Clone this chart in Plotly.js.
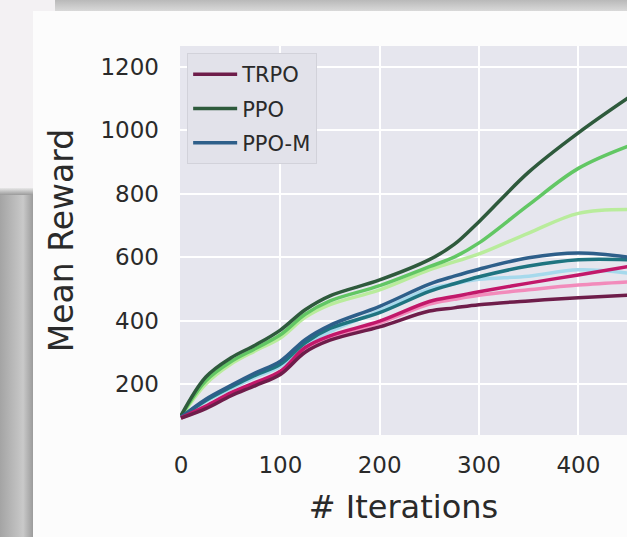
<!DOCTYPE html>
<html>
<head>
<meta charset="utf-8">
<script src="https://cdn.plot.ly/plotly-3.0.1.min.js"></script>
<style>
  html, body { margin:0; padding:0; }
  body { width:627px; height:537px; position:relative; overflow:hidden; background:#f3f1f3; }
  #topbar { position:absolute; left:55px; top:0; width:572px; height:11px; background:linear-gradient(#b9b9b9,#d9d9d9); }
  #leftstrip { position:absolute; left:0; top:195px; width:33px; height:342px; background:linear-gradient(to right,#a4a4a4,#c9c9c9 70%,#9c9c9c); }
  #lefttop { position:absolute; left:0; top:188px; width:33px; height:8px; background:linear-gradient(#e8e8e8,#8f8f8f); }
  #chart { position:absolute; left:33px; top:11px; width:594px; height:526px; }
</style>
</head>
<body>
<div id="topbar"></div>
<div id="lefttop"></div>
<div id="leftstrip"></div>
<div id="chart"></div>
<script>
const iterations = [0, 25, 50, 75, 100, 125, 150, 200, 250, 275, 300, 350, 400, 450];

const trpoDark    = [92, 122, 162, 195, 230, 300, 338, 380, 430, 440, 450, 462, 472, 480];
const trpoMagenta = [93, 130, 172, 205, 240, 315, 352, 398, 460, 476, 491, 518, 544, 570];
const trpoPink    = [92, 125, 168, 200, 235, 308, 345, 392, 452, 467, 480, 497, 512, 522];

const ppoDark     = [100, 222, 282, 323, 370, 434, 478, 528, 592, 640, 712, 868, 992, 1102];
const ppoMedium   = [98, 210, 270, 312, 355, 420, 462, 510, 570, 600, 645, 765, 880, 950];
const ppoLight    = [96, 200, 262, 305, 345, 410, 450, 497, 560, 585, 610, 676, 738, 750];

const ppomBlue    = [95, 152, 195, 235, 272, 340, 385, 445, 515, 540, 562, 598, 613, 600];
const ppomTeal    = [94, 148, 190, 228, 262, 330, 375, 425, 492, 516, 538, 572, 592, 592];
const ppomLight   = [94, 145, 185, 222, 255, 322, 365, 432, 500, 516, 530, 540, 560, 550];

const algoNames = ['TRPO', 'PPO', 'PPO-M'];
const yTicks = [200, 400, 600, 800, 1000, 1200];
const xTicks = [0, 100, 200, 300, 400];

function run(y, color, name, group, showLeg, rank) {
  return {
    x: iterations, y: y, type: 'scatter', mode: 'lines',
    line: { color: color, width: 3.5, shape: 'spline', smoothing: 1.0 },
    name: name, legendgroup: group, showlegend: showLeg, legendrank: rank
  };
}

const traces = [
  run(ppoLight,  '#b9ec9c', algoNames[1], 'ppo', false, 2),
  run(ppoMedium, '#62c764', algoNames[1], 'ppo', false, 2),
  run(ppoDark,   '#2e5a3c', algoNames[1], 'ppo', true, 2),
  run(ppomLight, '#a6d9ec', algoNames[2], 'ppom', false, 3),
  run(ppomTeal,  '#1f7480', algoNames[2], 'ppom', false, 3),
  run(ppomBlue,  '#2e5f8a', algoNames[2], 'ppom', true, 3),
  run(trpoPink,  '#f28bbb', algoNames[0], 'trpo', false, 1),
  run(trpoMagenta,'#c2186a', algoNames[0], 'trpo', false, 1),
  run(trpoDark,  '#6e1d4a', algoNames[0], 'trpo', true, 1)
];

const font = { family: 'DejaVu Sans, sans-serif', color: '#2a2a2a' };

const layout = {
  width: 594, height: 526,
  margin: { l: 147, r: 0, t: 35, b: 102 },
  paper_bgcolor: '#fcfcfc',
  plot_bgcolor: '#e6e6ee',
  showlegend: true,
  legend: {
    x: 0.016, y: 0.982, xanchor: 'left', yanchor: 'top',
    bgcolor: '#e2e2ea', bordercolor: '#d2d2da', borderwidth: 1,
    font: { family: font.family, color: font.color, size: 21 },
    traceorder: 'grouped', itemwidth: 44, tracegroupgap: 4
  },
  xaxis: {
    range: [-1, 449], tickvals: xTicks, ticktext: xTicks.map(String),
    showgrid: true, gridcolor: '#ffffff', gridwidth: 2, zeroline: false,
    showline: false, ticks: '', ticklabelstandoff: 14,
    tickfont: { family: font.family, color: font.color, size: 23 },
    title: { text: '# Iterations', standoff: 18, font: { family: font.family, color: font.color, size: 32 } }
  },
  yaxis: {
    range: [39, 1266], tickvals: yTicks, ticktext: yTicks.map(String),
    showgrid: true, gridcolor: '#ffffff', gridwidth: 2, zeroline: false,
    showline: false, ticks: '', ticklabelstandoff: 20,
    tickfont: { family: font.family, color: font.color, size: 23 },
    title: { text: 'Mean Reward', standoff: 16, font: { family: font.family, color: font.color, size: 33 } }
  }
};

Plotly.newPlot('chart', traces, layout, { displayModeBar: false, staticPlot: true });
</script>
</body>
</html>
